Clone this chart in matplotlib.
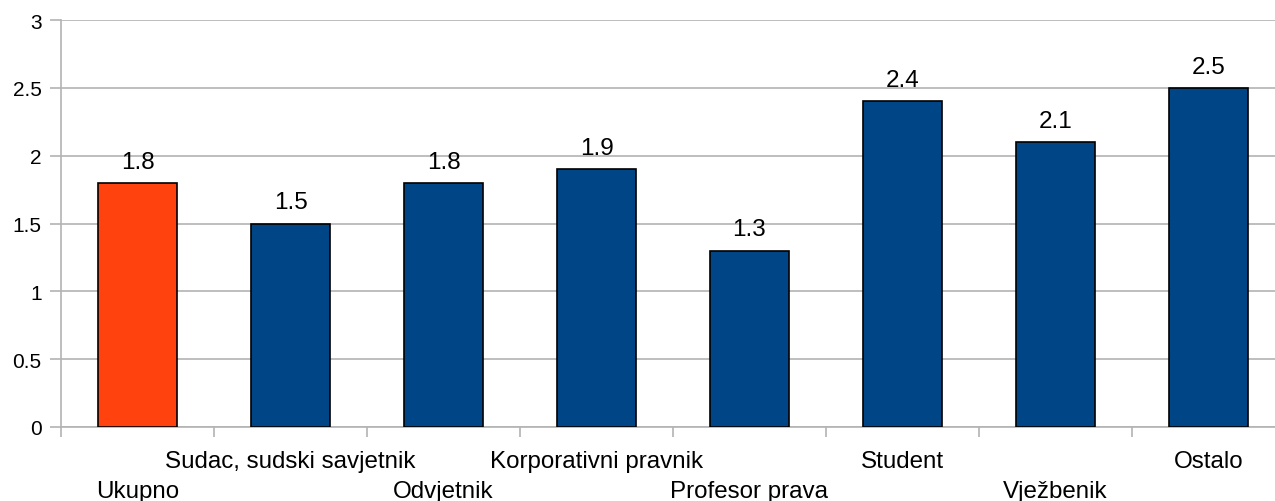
import matplotlib.pyplot as plt

plt.rcParams['font.family'] = ['Liberation Sans', 'DejaVu Sans']

categories = ['Ukupno', 'Sudac, sudski savjetnik', 'Odvjetnik', 'Korporativni pravnik',
              'Profesor prava', 'Student', 'Vježbenik', 'Ostalo']
values = [1.8, 1.5, 1.8, 1.9, 1.3, 2.4, 2.1, 2.5]
colors = ['#ff420e'] + ['#004586'] * 7

fig = plt.figure(figsize=(12.75, 5.02), dpi=100)
ax = fig.add_axes([61 / 1275, 74 / 502, 1224 / 1275, 407 / 502])

x = range(len(categories))
ax.bar(x, values, width=0.51, color=colors, edgecolor='black', linewidth=1.2, zorder=3)

for i, v in enumerate(values):
    ax.annotate(f'{v:.1f}', (i, v), xytext=(0, 11), textcoords='offset points',
                ha='center', va='baseline', fontsize=17.5)

ax.set_xlim(-0.5, len(categories) - 0.5)
ax.set_ylim(0, 3)
ax.set_yticks([0, 0.5, 1, 1.5, 2, 2.5, 3])
ax.set_yticklabels(['0', '0.5', '1', '1.5', '2', '2.5', '3'], fontsize=15)
ax.grid(axis='y', color='#b3b3b3', linewidth=1.2, zorder=0)
ax.tick_params(axis='y', length=8, color='#b3b3b3', width=1.2, pad=6)

# category boundaries as tick marks
ax.set_xticks([i - 0.5 for i in range(len(categories) + 1)])
ax.set_xticklabels([])
ax.tick_params(axis='x', length=7, color='#b3b3b3', width=1.2)

for i, name in enumerate(categories):
    off = -50.5 if i % 2 == 0 else -29
    ax.annotate(name, (i, 0), xytext=(0, off), textcoords='offset points',
                ha='center', va='baseline', fontsize=17.4, annotation_clip=False)

for s in ['top', 'right']:
    ax.spines[s].set_visible(False)
for s in ['left', 'bottom']:
    ax.spines[s].set_color('#b3b3b3')
    ax.spines[s].set_linewidth(1.2)

fig.savefig('out.png', dpi=100)
